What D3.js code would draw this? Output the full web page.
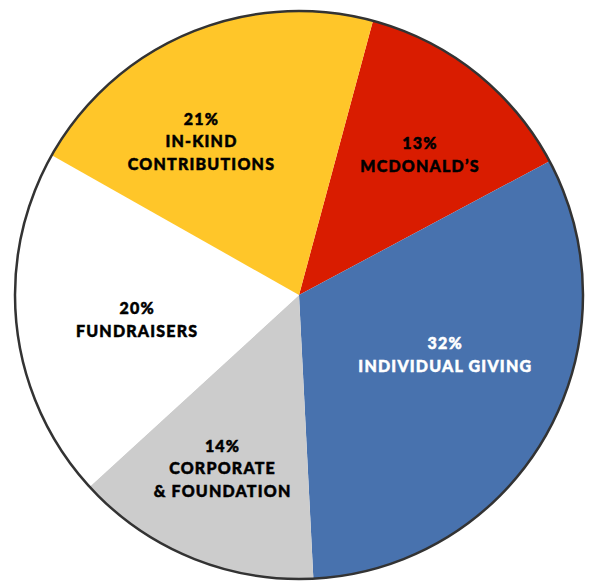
<!DOCTYPE html>
<html>
<head>
<meta charset="utf-8">
<script src="https://cdn.jsdelivr.net/npm/d3@7"></script>
<style>
  html, body { margin: 0; padding: 0; background: #fff; }
  svg text { font-family: Lato, 'Open Sans', sans-serif; font-weight: 900; }
</style>
</head>
<body>
<div class="canvas"></div>
<script>
const categories = ['McDonald\u2019s', 'Individual Giving', 'Corporate & Foundation', 'Fundraisers', 'In-Kind Contributions']
const shares = [13, 32, 14, 20, 21]
const labelLines = [['McDonald\u2019s'], ['Individual Giving'], ['Corporate', '& Foundation'], ['Fundraisers'], ['In-Kind', 'Contributions']]
const colours = ['#d91c00', '#4872ae', '#cccccc', '#ffffff', '#ffc629']
const textColours = ['#000', '#fff', '#000', '#000', '#000']

const width = 589
const height = 582
const centre = {x: 299, y: 295}
const radius = 284
const startAngle = 15.1 * Math.PI / 180

// small nudges so labels sit where the original put them
const nudge = [[12, -4], [-6, -27], [-10, 11], [12, 4], [-30, 7]]

const data = categories.map((name, i) => ({name, value: shares[i], lines: labelLines[i], i}))

const pie = d3.pie()
  .sort(null)
  .value(d => d.value)
  .startAngle(startAngle)
  .endAngle(startAngle + 2 * Math.PI)

const arc = d3.arc().innerRadius(0).outerRadius(radius)
const labelArc = d3.arc().innerRadius(175).outerRadius(175)

const svg = d3.select('.canvas')
  .append('svg')
  .attr('width', width)
  .attr('height', height)

const graph = svg.append('g')
  .attr('transform', `translate(${centre.x}, ${centre.y})`)

const arcs = pie(data)

graph.selectAll('path.slice')
  .data(arcs)
  .enter().append('path')
  .attr('class', 'slice')
  .attr('d', arc)
  .attr('fill', d => colours[d.data.i])

graph.append('circle')
  .attr('r', radius)
  .attr('fill', 'none')
  .attr('stroke', '#333')
  .attr('stroke-width', 2.5)

const labels = graph.selectAll('g.label')
  .data(arcs)
  .enter().append('g')
  .attr('class', 'label')
  .attr('transform', d => {
    const [x, y] = labelArc.centroid(d)
    const [nx, ny] = nudge[d.data.i]
    return `translate(${x + nx}, ${y + ny})`
  })

labels.each(function (d) {
  const g = d3.select(this)
  const lines = [`${d.data.value}%`].concat(d.data.lines.map(s => s.toUpperCase()))
  const lineHeight = 22.5
  const top = -((lines.length - 1) * lineHeight) / 2
  g.selectAll('text')
    .data(lines)
    .enter().append('text')
    .attr('text-anchor', 'middle')
    .attr('dominant-baseline', 'central')
    .attr('y', (l, j) => top + j * lineHeight)
    .attr('fill', textColours[d.data.i])
    .attr('stroke', textColours[d.data.i])
    .attr('stroke-width', 0.5)
    .attr('font-size', 16)
    .attr('letter-spacing', 1.2)
    .text(l => l)
})
</script>
</body>
</html>
